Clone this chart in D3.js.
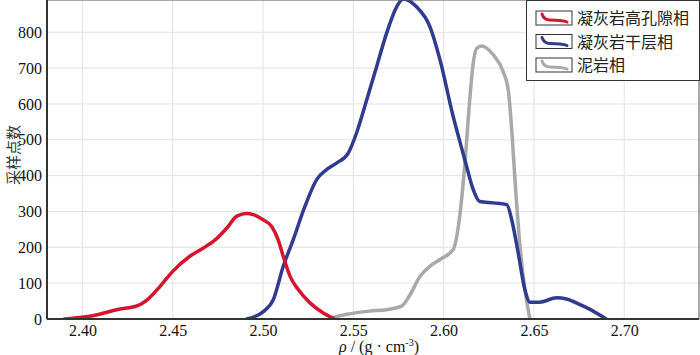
<!DOCTYPE html>
<html>
<head>
<meta charset="utf-8">
<script src="https://cdn.jsdelivr.net/npm/d3@7"></script>
<style>
  body { margin: 0; background: #fff; }
  text { font-family: 'Liberation Serif', 'Times New Roman', serif; }
  .cjk { font-family: 'Noto Sans CJK SC', sans-serif; }
</style>
</head>
<body>
<div id="chart"></div>
<script>
// series names and colours
const seriesNames = ['凝灰岩高孔隙相', '凝灰岩干层相', '泥岩相']
const seriesColors = ['#d6142c', '#2f3b8f', '#a9a9a9']

// density (g/cm3) vs sample count
const redPoints = [
  [2.390, 0], [2.402, 6], [2.410, 14], [2.419, 26], [2.431, 38], [2.4355, 52],
  [2.443, 91], [2.450, 133], [2.4595, 175], [2.467, 198], [2.474, 223], [2.480, 254],
  [2.4855, 287], [2.491, 294], [2.4946, 291], [2.500, 277], [2.5048, 258], [2.5084, 221],
  [2.5112, 175], [2.515, 119], [2.5195, 82], [2.526, 45], [2.5333, 17], [2.539, 2]
]
const bluePoints = [
  [2.491, 0], [2.500, 20], [2.5057, 54], [2.5112, 147], [2.5167, 221], [2.5232, 314],
  [2.5297, 389], [2.535, 416], [2.5407, 435], [2.5472, 463], [2.5518, 519], [2.5574, 611],
  [2.5629, 704], [2.5684, 797], [2.574, 871], [2.5776, 893], [2.585, 871], [2.5924, 816],
  [2.598, 723], [2.6053, 565], [2.609, 495], [2.6127, 426], [2.6164, 361], [2.620, 328],
  [2.6275, 324], [2.635, 319], [2.6377, 277], [2.6413, 184], [2.645, 82], [2.6478, 47],
  [2.653, 47], [2.6626, 59], [2.668, 56], [2.6755, 40], [2.6828, 22], [2.690, 0]
]
const grayPoints = [
  [2.537, 2], [2.5463, 13], [2.559, 22], [2.5684, 26], [2.5767, 36], [2.581, 64],
  [2.587, 119], [2.5924, 147], [2.598, 166], [2.6053, 194], [2.609, 290], [2.6118, 435],
  [2.6146, 620], [2.6164, 714], [2.6183, 755], [2.621, 762], [2.6275, 737], [2.633, 690],
  [2.6358, 639], [2.6377, 528], [2.6395, 389], [2.6423, 203], [2.645, 82], [2.6478, 0]
]

const xTicks = [2.40, 2.45, 2.50, 2.55, 2.60, 2.65, 2.70]
const yTicks = [0, 100, 200, 300, 400, 500, 600, 700, 800]

const margin = { top: 0, right: 1, bottom: 36, left: 47 }
const width = 700 - margin.left - margin.right
const height = 355 - margin.top - margin.bottom

const svg = d3
  .select('#chart')
  .append('svg')
  .attr('width', 700)
  .attr('height', 355)

const g = svg.append('g')
  .attr('transform', 'translate(' + margin.left + ',' + margin.top + ')')

const x = d3.scaleLinear().domain([2.3804, 2.7414]).range([0, width])
const y = d3.scaleLinear().domain([0, 890]).range([height, 0])

// grid
g.append('g')
  .selectAll('line')
  .data(xTicks)
  .enter()
  .append('line')
  .attr('x1', d => x(d)).attr('x2', d => x(d))
  .attr('y1', 0).attr('y2', height)
  .attr('stroke', '#e2e2e2')

g.append('g')
  .selectAll('line')
  .data(yTicks.slice(1))
  .enter()
  .append('line')
  .attr('x1', 0).attr('x2', width)
  .attr('y1', d => y(d)).attr('y2', d => y(d))
  .attr('stroke', '#e2e2e2')

// curves
svg.append('clipPath').attr('id', 'clip')
  .append('rect').attr('width', width).attr('height', height)

const line = d3.line()
  .x(d => x(d[0]))
  .y(d => y(d[1]))
  .curve(d3.curveMonotoneX)

const allSeries = [redPoints, bluePoints, grayPoints]
const curves = g.append('g').attr('clip-path', 'url(#clip)')
// draw gray first so blue/red sit on top like the picture
;[2, 1, 0].forEach(i => {
  curves.append('path')
    .datum(allSeries[i])
    .attr('d', line)
    .attr('fill', 'none')
    .attr('stroke', seriesColors[i])
    .attr('stroke-width', 3.5)
    .attr('stroke-linejoin', 'round')
    .attr('stroke-linecap', 'round')
})

// frame
g.append('rect')
  .attr('width', width).attr('height', height)
  .attr('fill', 'none')
  .attr('stroke', '#555')
  .attr('stroke-width', 1)

g.append('line').attr('x1', 0).attr('x2', 0).attr('y1', 0).attr('y2', height)
  .attr('stroke', '#333').attr('stroke-width', 2)
g.append('line').attr('x1', 0).attr('x2', width).attr('y1', height).attr('y2', height)
  .attr('stroke', '#333').attr('stroke-width', 2)

// axes
const xAxis = d3.axisBottom(x).tickValues(xTicks).tickFormat(d3.format('.2f')).tickSize(0).tickPadding(6)
const yAxis = d3.axisLeft(y).tickValues(yTicks).tickFormat(d3.format('d')).tickSize(0).tickPadding(5)

g.append('g')
  .attr('class', 'x-axis')
  .attr('transform', 'translate(0,' + height + ')')
  .call(xAxis)
g.append('g')
  .attr('class', 'y-axis')
  .call(yAxis)

d3.selectAll('.x-axis .domain, .y-axis .domain').remove()
d3.selectAll('.x-axis text, .y-axis text')
  .attr('font-family', "'Liberation Serif', serif")
  .attr('font-size', 16)
  .attr('fill', '#111')

// axis titles
const xTitle = svg.append('text')
  .attr('x', 379).attr('y', 352)
  .attr('text-anchor', 'middle')
  .attr('font-size', 16)
  .attr('fill', '#111')
xTitle.append('tspan').attr('font-style', 'italic').text('ρ')
xTitle.append('tspan').text(' / (g · cm')
xTitle.append('tspan').attr('font-size', 10).attr('dy', -6).text('-3')
xTitle.append('tspan').attr('dy', 6).text(')')

svg.append('text')
  .attr('class', 'cjk')
  .attr('transform', 'translate(19,155) rotate(-90)')
  .attr('text-anchor', 'middle')
  .attr('font-size', 15)
  .attr('fill', '#333')
  .text('采样点数')

// legend
const legend = svg.append('g').attr('transform', 'translate(526,0)')
legend.append('rect')
  .attr('x', 0.5).attr('y', 0.5)
  .attr('width', 173).attr('height', 80)
  .attr('fill', '#fff')
  .attr('stroke', '#333')

const items = legend.selectAll('g.item')
  .data(seriesNames)
  .enter()
  .append('g')
  .attr('class', 'item')
  .attr('transform', (d, i) => 'translate(0,' + (10 + i * 23.5) + ')')

items.append('rect')
  .attr('x', 10).attr('y', 1)
  .attr('width', 36).attr('height', 14)
  .attr('fill', '#fff')
  .attr('stroke', '#333')

items.append('path')
  .attr('d', 'M16,4 Q18,10 24,10 L34,10.5 Q39,11 41,12')
  .attr('fill', 'none')
  .attr('stroke', (d, i) => seriesColors[i])
  .attr('stroke-width', 3)
  .attr('stroke-linecap', 'round')

items.append('text')
  .attr('class', 'cjk')
  .attr('x', 51).attr('y', 14)
  .attr('font-size', 16)
  .attr('fill', '#222')
  .text(d => d)
</script>
</body>
</html>
